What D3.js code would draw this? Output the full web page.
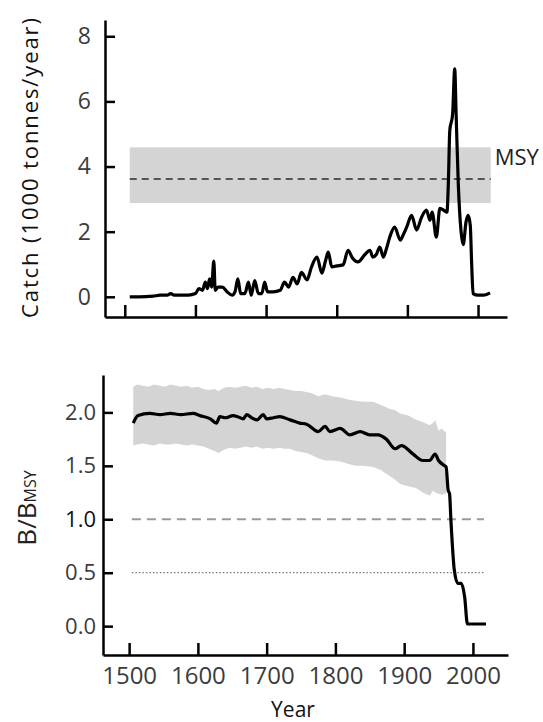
<!DOCTYPE html>
<html>
<head>
<meta charset="utf-8">
<script src="https://cdn.jsdelivr.net/npm/d3@7"></script>
<style>
  body { margin: 0; background: #fff; }
  svg { display: block; font-family: "Open Sans", sans-serif; }
</style>
</head>
<body>
<div id="chart"></div>
<script>
// Catch series (1000 tonnes / year)
const catchYears = [1507, 1520, 1540, 1550, 1560, 1565, 1570, 1580, 1590, 1600, 1605, 1610, 1614, 1617, 1620, 1623, 1626, 1628, 1632, 1638, 1645, 1652, 1656, 1660, 1664, 1670, 1675, 1679, 1684, 1689, 1694, 1698, 1702, 1710, 1720, 1726, 1732, 1738, 1744, 1750, 1758, 1764, 1772, 1779, 1784, 1788, 1793, 1800, 1809, 1816, 1822, 1830, 1840, 1847, 1851, 1856, 1861, 1866, 1870, 1875, 1882, 1890, 1894, 1899, 1906, 1913, 1920, 1927, 1932, 1935, 1941, 1946, 1952, 1956, 1958, 1960, 1964, 1967, 1969, 1972, 1976, 1979, 1983, 1986, 1989, 1991, 1993, 2000, 2007, 2013, 2017];
const catchValues = [0, 0, 0.02, 0.05, 0.05, 0.1, 0.05, 0.05, 0.05, 0.1, 0.25, 0.2, 0.45, 0.25, 0.55, 0.3, 1.1, 0.2, 0.3, 0.3, 0.15, 0.05, 0.15, 0.55, 0.1, 0.1, 0.45, 0.05, 0.5, 0.1, 0.1, 0.45, 0.15, 0.15, 0.2, 0.45, 0.3, 0.6, 0.4, 0.75, 0.52, 0.9, 1.22, 0.73, 1.1, 1.37, 0.92, 0.95, 0.98, 1.43, 1.2, 1.07, 1.3, 1.43, 1.22, 1.3, 1.53, 1.22, 1.45, 1.83, 2.14, 1.74, 1.9, 2.14, 2.5, 2.05, 2.44, 2.66, 2.35, 2.6, 1.83, 2.72, 2.65, 2.6, 3.5, 5.1, 5.6, 7.0, 5.6, 3.5, 2.0, 1.6, 2.3, 2.5, 2.2, 1.0, 0.1, 0.05, 0.05, 0.08, 0.12];

// MSY and its range
const msyValue = 3.62;
const msyLow = 2.88;
const msyHigh = 4.59;
const msyYears = [1507, 2018];

// Biomass relative to BMSY (median)
const bYears = [1506, 1513, 1530, 1545, 1560, 1575, 1593, 1603, 1618, 1627, 1632, 1640, 1651, 1658, 1666, 1671, 1678, 1686, 1695, 1700, 1710, 1719, 1734, 1748, 1758, 1775, 1785, 1792, 1807, 1821, 1836, 1850, 1862, 1874, 1887, 1896, 1913, 1927, 1937, 1945, 1950, 1959, 1961, 1964, 1966, 1968, 1973, 1978, 1983, 1988, 1992, 2019];
const bValues = [1.9, 1.97, 1.99, 1.98, 1.99, 1.98, 1.99, 1.97, 1.94, 1.9, 1.96, 1.95, 1.97, 1.96, 1.94, 1.98, 1.95, 1.93, 1.98, 1.94, 1.95, 1.96, 1.93, 1.9, 1.89, 1.82, 1.87, 1.82, 1.85, 1.79, 1.82, 1.79, 1.79, 1.75, 1.66, 1.69, 1.61, 1.55, 1.55, 1.61, 1.55, 1.5, 1.49, 1.27, 1.24, 0.99, 0.52, 0.4, 0.4, 0.27, 0.02, 0.02];

// Uncertainty band of B/BMSY
const bandYears = [1506, 1512, 1520, 1528, 1536, 1544, 1552, 1560, 1568, 1576, 1584, 1592, 1600, 1608, 1616, 1624, 1630, 1638, 1646, 1654, 1662, 1670, 1678, 1686, 1694, 1702, 1710, 1718, 1726, 1734, 1742, 1750, 1758, 1766, 1775, 1785, 1795, 1807, 1818, 1829, 1840, 1855, 1866, 1880, 1887, 1894, 1906, 1918, 1927, 1937, 1942, 1945, 1950, 1955, 1959, 1961];
const bandUpper = [2.24, 2.26, 2.25, 2.24, 2.26, 2.25, 2.24, 2.26, 2.25, 2.24, 2.25, 2.23, 2.24, 2.22, 2.21, 2.22, 2.2, 2.23, 2.24, 2.23, 2.24, 2.25, 2.23, 2.24, 2.22, 2.23, 2.22, 2.23, 2.22, 2.21, 2.2, 2.2, 2.19, 2.18, 2.15, 2.17, 2.15, 2.14, 2.12, 2.11, 2.1, 2.1, 2.07, 2.03, 2.02, 1.99, 1.97, 1.93, 1.91, 1.88, 1.9, 1.93, 1.83, 1.85, 1.82, 1.82];
const bandLower = [1.69, 1.7, 1.71, 1.7, 1.69, 1.71, 1.7, 1.7, 1.71, 1.7, 1.69, 1.7, 1.69, 1.68, 1.66, 1.64, 1.62, 1.65, 1.67, 1.66, 1.67, 1.68, 1.67, 1.68, 1.66, 1.67, 1.66, 1.67, 1.66, 1.66, 1.64, 1.63, 1.62, 1.6, 1.57, 1.55, 1.55, 1.54, 1.52, 1.5, 1.5, 1.49, 1.46, 1.4, 1.37, 1.33, 1.31, 1.29, 1.25, 1.22, 1.27, 1.25, 1.24, 1.23, 1.24, 1.24];

// Reference levels on the lower panel
const refLevels = [1.0, 0.5];
const refYears = [1504, 2016];

const yearTicks = [1500, 1600, 1700, 1800, 1900, 2000];
const catchTicks = [0, 2, 4, 6, 8];
const bTicks = [0, 0.5, 1.0, 1.5, 2.0];

const w = 543;
const h = 722;

const svg = d3
  .select("#chart")
  .append("svg")
  .attr("width", w)
  .attr("height", h)
  .style("background-color", "#fff");

// ---------- top panel: catch ----------
const xTop = d3.scaleLinear().domain([1472, 2041]).range([105, 507]);
const yTop = d3.scaleLinear().domain([-0.62, 8.5]).range([317, 20]);

svg
  .append("rect")
  .attr("x", xTop(msyYears[0]))
  .attr("y", yTop(msyHigh))
  .attr("width", xTop(msyYears[1]) - xTop(msyYears[0]))
  .attr("height", yTop(msyLow) - yTop(msyHigh))
  .attr("fill", "#d4d4d4");

svg
  .append("line")
  .attr("x1", xTop(msyYears[0]))
  .attr("x2", xTop(msyYears[1]))
  .attr("y1", yTop(msyValue))
  .attr("y2", yTop(msyValue))
  .attr("stroke", "#555")
  .attr("stroke-width", 2)
  .attr("stroke-dasharray", "7,5");

svg
  .append("text")
  .attr("x", xTop(msyYears[1]) + 4)
  .attr("y", yTop(msyHigh) + 18)
  .attr("font-size", 22)
  .attr("fill", "#222")
  .text("MSY");

const catchLine = d3
  .line()
  .x((d, i) => xTop(catchYears[i]))
  .y((d) => yTop(d))
  .curve(d3.curveMonotoneX);

svg
  .append("path")
  .datum(catchValues)
  .attr("d", catchLine)
  .attr("fill", "none")
  .attr("stroke", "#000")
  .attr("stroke-width", 3.2)
  .attr("stroke-linejoin", "round");

const xAxisTop = d3
  .axisBottom(xTop)
  .tickValues(yearTicks)
  .tickSize(-12)
  .tickSizeOuter(0)
  .tickFormat("");

const yAxisTop = d3
  .axisLeft(yTop)
  .tickValues(catchTicks)
  .tickSize(-10)
  .tickSizeOuter(0)
  .tickPadding(14);

svg
  .append("g")
  .attr("class", "axis")
  .attr("transform", `translate(0, ${yTop.range()[0]})`)
  .call(xAxisTop);

svg
  .append("g")
  .attr("class", "axis")
  .attr("transform", `translate(${xTop.range()[0]}, 0)`)
  .call(yAxisTop)
  .selectAll("text")
  .attr("font-size", 23);

svg
  .append("text")
  .attr("transform", `translate(38, 168) rotate(-90)`)
  .attr("text-anchor", "middle")
  .attr("font-size", 22)
  .attr("fill", "#111")
  .attr("textLength", 300)
  .attr("lengthAdjust", "spacing")
  .text("Catch (1000 tonnes/year)");

// ---------- bottom panel: B/BMSY ----------
const xBot = d3.scaleLinear().domain([1462, 2051]).range([103, 508]);
const yBot = d3.scaleLinear().domain([-0.27, 2.35]).range([655, 375]);

const band = d3
  .area()
  .x((d, i) => xBot(bandYears[i]))
  .y0((d, i) => yBot(bandLower[i]))
  .y1((d) => yBot(d));

svg
  .append("path")
  .datum(bandUpper)
  .attr("d", band)
  .attr("fill", "#d4d4d4");

svg
  .selectAll(".ref")
  .data(refLevels)
  .enter()
  .append("line")
  .attr("class", "ref")
  .attr("x1", xBot(refYears[0]))
  .attr("x2", xBot(refYears[1]))
  .attr("y1", (d) => yBot(d))
  .attr("y2", (d) => yBot(d))
  .attr("stroke", (d) => (d === 1 ? "#9a9a9a" : "#777"))
  .attr("stroke-width", (d) => (d === 1 ? 2 : 1.3))
  .attr("stroke-dasharray", (d) => (d === 1 ? "9,6" : "1.5,2"));

const bLine = d3
  .line()
  .x((d, i) => xBot(bYears[i]))
  .y((d) => yBot(d))
  .curve(d3.curveMonotoneX);

svg
  .append("path")
  .datum(bValues)
  .attr("d", bLine)
  .attr("fill", "none")
  .attr("stroke", "#000")
  .attr("stroke-width", 3.2)
  .attr("stroke-linejoin", "round");

const xAxisBot = d3
  .axisBottom(xBot)
  .tickValues(yearTicks)
  .tickSize(-12)
  .tickSizeOuter(0)
  .tickPadding(12)
  .tickFormat(d3.format("d"));

const yAxisBot = d3
  .axisLeft(yBot)
  .tickValues(bTicks)
  .tickSize(-10)
  .tickSizeOuter(0)
  .tickPadding(7)
  .tickFormat(d3.format(".1f"));

svg
  .append("g")
  .attr("class", "axis")
  .attr("transform", `translate(0, ${yBot.range()[0]})`)
  .call(xAxisBot)
  .selectAll("text")
  .attr("font-size", 24);

svg
  .append("g")
  .attr("class", "axis")
  .attr("transform", `translate(${xBot.range()[0]}, 0)`)
  .call(yAxisBot)
  .selectAll("text")
  .attr("font-size", 22)
  .attr("fill", (d) => (d === 1 ? "#111" : "#3c3c3c"));

const bLabel = svg
  .append("text")
  .attr("transform", `translate(36, 508) rotate(-90)`)
  .attr("text-anchor", "middle")
  .attr("fill", "#222");
bLabel.append("tspan").attr("font-size", 26).text("B/B");
bLabel.append("tspan").attr("font-size", 16).text("MSY");

svg
  .append("text")
  .attr("x", 293)
  .attr("y", 717)
  .attr("text-anchor", "middle")
  .attr("font-size", 21)
  .attr("fill", "#111")
  .text("Year");

// axis styling
svg.selectAll(".axis path, .axis line").attr("stroke", "#000").attr("stroke-width", 2.5);
svg.selectAll(".axis text").attr("font-family", "Open Sans, sans-serif");
svg.selectAll(".axis").each(function () {
  d3.select(this)
    .selectAll("text")
    .filter(function () {
      return !this.getAttribute("fill") || this.getAttribute("fill") === "currentColor";
    })
    .attr("fill", "#3c3c3c");
});
</script>
</body>
</html>
